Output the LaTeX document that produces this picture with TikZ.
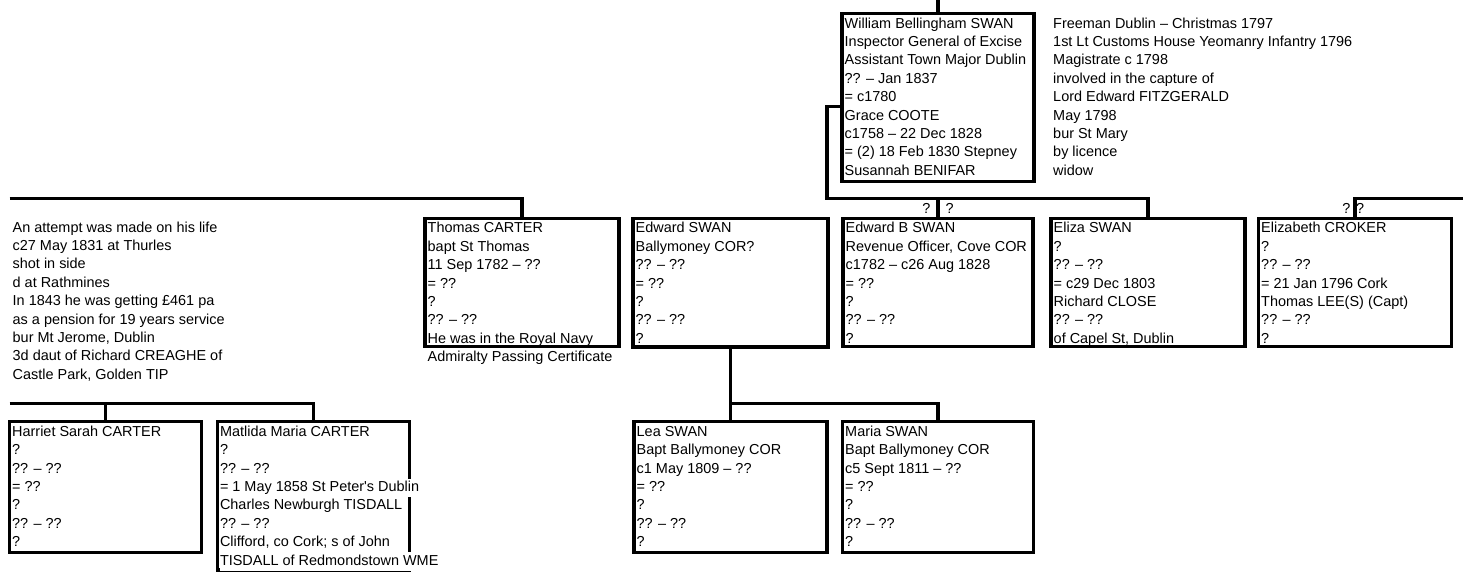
\documentclass[tikz,border=0pt]{standalone}
\usepackage{fontspec}
\setmainfont{Liberation Sans}
\usepackage{tikz}
\usetikzlibrary{calc}
\newcommand{\person}[6]{\node[pbox, minimum width=#4, minimum height=#5] (#1) at (#2,#3) {}; \node[ptext, xshift=2.5pt, yshift=-1.5pt] (#1-t) at (#1.north west) {\strut#6};}
\newcommand{\wbg}[1]{{\fboxsep=0pt\colorbox{white}{\strut#1}}}

\begin{document}
\begin{tikzpicture}[x=1pt, y=-1pt,
    pbox/.style={draw, line width=3.3pt, rectangle, anchor=north west, inner sep=0pt, outer sep=0pt},
    ptext/.style={anchor=north west, inner sep=0pt, align=left, font=\fontsize{14.45}{18.4}\selectfont},
    link/.style={line width=3.3pt}]
    \useasboundingbox (0,0) rectangle (1463,573);

    % top generation
    \person{ws}{842}{13.5}{192}{168.2}{William Bellingham SWAN\\Inspector General of Excise\\Assistant Town Major Dublin\\?? – Jan 1837\\= c1780\\Grace COOTE\\c1758 – 22 Dec 1828\\= (2) 18 Feb 1830 Stepney\\Susannah BENIFAR}
    \node[ptext] (wnote) at (1053,15) {\strut Freeman Dublin – Christmas 1797\\1st Lt Customs House Yeomanry Infantry 1796\\Magistrate c 1798\\involved in the capture of\\Lord Edward FITZGERALD\\May 1798\\bur St Mary\\by licence\\widow};

    % second generation
    \node[ptext] (lnote) at (12.5,219.1) {\strut An attempt was made on his life\\c27 May 1831 at Thurles\\shot in side\\d at Rathmines\\In 1843 he was getting £461 pa\\as a pension for 19 years service\\bur Mt Jerome, Dublin\\3d daut of Richard CREAGHE of\\Castle Park, Golden TIP};
    \person{tc}{425}{218.3}{194}{128.4}{Thomas CARTER\\bapt St Thomas\\11 Sep 1782 – ??\\= ??\\?\\?? – ??\\He was in the Royal Navy\\Admiralty Passing Certificate}
    \person{eds}{633}{218.3}{195}{128.6}{Edward SWAN\\Ballymoney COR?\\?? – ??\\= ??\\?\\?? – ??\\?}
    \person{ebs}{843}{218.3}{190}{128.4}{Edward B SWAN\\Revenue Officer, Cove COR\\c1782 – c26 Aug 1828\\= ??\\?\\?? – ??\\?}
    \person{eliza}{1051}{218.3}{194}{128.4}{Eliza SWAN\\?\\?? – ??\\= c29 Dec 1803\\Richard CLOSE\\?? – ??\\of Capel St, Dublin}
    \person{ec}{1258.5}{218.3}{193}{128.4}{Elizabeth CROKER\\?\\?? – ??\\= 21 Jan 1796 Cork\\Thomas LEE(S) (Capt)\\?? – ??\\?}

    % third generation
    \person{hsc}{9.5}{421.7}{192}{130.8}{Harriet Sarah CARTER\\?\\?? – ??\\= ??\\?\\?? – ??\\?}
    \person{mmc}{217.3}{421.7}{192}{148.3}{Matlida Maria CARTER\\?\\?? – ??\\\wbg{= 1 May 1858 St Peter\textquotesingle s Dublin}\\Charles Newburgh TISDALL\\?? – ??\\Clifford, co Cork; s of John\\\wbg{TISDALL of Redmondstown WME}}
    \person{lea}{634}{421.7}{193}{131}{Lea SWAN\\Bapt Ballymoney COR\\c1 May 1809 – ??\\= ??\\?\\?? – ??\\?}
    \person{maria}{842.5}{421.7}{191}{131}{Maria SWAN\\Bapt Ballymoney COR\\c5 Sept 1811 – ??\\= ??\\?\\?? – ??\\?}

    % connectors
    \coordinate (wstop) at (938,-2);
    \coordinate (wsL) at (842,106.7);
    \coordinate (swanbar) at (827,198.5);
    \coordinate (carterL) at (9.5,198.5);
    \coordinate (crokerbar) at (1466,198.5);
    \coordinate (carterkids) at (9.5,403.3);
    \coordinate (swankids) at (730.5,403.3);
    \draw[link] (wstop) -- (ws.north);
    \draw[link] (wsL) -| (swanbar) -| (eliza.north);
    \draw[link] (ebs.north) -- (ebs.north |- swanbar);
    \draw[link] (carterL) -| (tc.north);
    \draw[link] (crokerbar) -| (ec.north);
    \draw[link] (eds.south) -- (swankids) -| (maria.north);
    \draw[link] (lea.north) -- (lea.north |- swankids);
    \draw[link] (carterkids) -| (mmc.north);
    \draw[link] (hsc.north) -- (hsc.north |- carterkids);

    % marks beside the stems
    \node[ptext, anchor=base east] (ebs-ql) at ($(ebs.north)+(-7.3,-4.8)$) {?};
    \node[ptext, anchor=base west] (ebs-qr) at ($(ebs.north)+(7.3,-4.8)$) {?};
    \node[ptext, anchor=base east] (ec-ql) at ($(ec.north)+(-4.3,-4.8)$) {?};
    \node[ptext, anchor=base west] (ec-qr) at ($(ec.north)+(1,-4.8)$) {?};
\end{tikzpicture}
\end{document}
